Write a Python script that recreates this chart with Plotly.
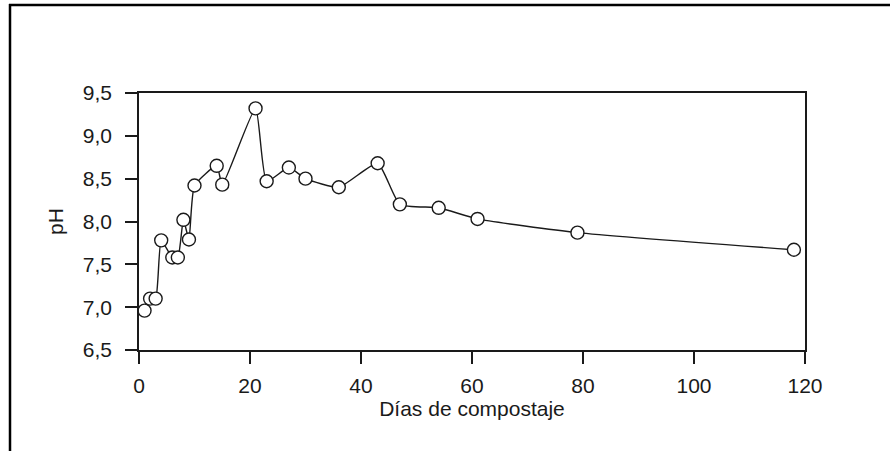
import plotly.graph_objects as go

dias = [1, 2, 3, 4, 6, 7, 8, 9, 10, 14, 15, 21, 23, 27, 30, 36, 43, 47, 54, 61, 79, 118]
ph = [6.96, 7.10, 7.10, 7.78, 7.58, 7.58, 8.02, 7.79, 8.42, 8.65, 8.43, 9.32, 8.47, 8.63, 8.50, 8.40, 8.68, 8.20, 8.16, 8.03, 7.87, 7.67]

x_ticks = [0, 20, 40, 60, 80, 100, 120]
y_ticks = [6.5, 7.0, 7.5, 8.0, 8.5, 9.0, 9.5]
y_tick_labels = ["6,5", "7,0", "7,5", "8,0", "8,5", "9,0", "9,5"]

ink = "#1a1a1a"
font = dict(family="Liberation Sans, Arial, sans-serif", size=21, color=ink)

fig = go.Figure()
fig.add_trace(go.Scatter(
    x=dias, y=ph, mode="lines+markers",
    line=dict(color=ink, width=1.4, shape="spline", smoothing=0.5),
    marker=dict(symbol="circle", size=13, color="white", line=dict(color=ink, width=1.4)),
    showlegend=False, cliponaxis=False,
))

L, R, T, B = 139, 85, 93, 101
W, H = 890, 451
pw, ph_ = W - L - R, H - T - B

def px_x(p):
    return (p - L) / pw

def px_y(p):
    return (H - B - p) / ph_

fig.update_layout(
    width=W, height=H,
    margin=dict(l=L, r=R, t=T, b=B),
    paper_bgcolor="white", plot_bgcolor="white",
    font=font,
    xaxis=dict(
        range=[0, 120], tickvals=x_ticks, ticktext=[str(v) for v in x_ticks],
        showgrid=False, zeroline=False, showline=True, mirror=True,
        linecolor=ink, linewidth=1.5, ticks="outside", ticklen=12, tickwidth=1.5,
        tickcolor=ink, tickfont=font, ticklabelstandoff=4,
        title=dict(text="Días de compostaje", font=font, standoff=4),
    ),
    yaxis=dict(
        range=[6.5, 9.5], tickvals=y_ticks, ticktext=y_tick_labels,
        showgrid=False, zeroline=False, showline=True, mirror=True,
        linecolor=ink, linewidth=1.5, ticks="outside", ticklen=12, tickwidth=1.5,
        tickcolor=ink, tickfont=font, ticklabelstandoff=9,
        title=dict(text="pH", font=font, standoff=13),
    ),
    shapes=[
        dict(type="line", xref="paper", yref="paper",
             x0=px_x(10), x1=px_x(10), y0=px_y(4), y1=px_y(470),
             line=dict(color="black", width=2.5)),
        dict(type="line", xref="paper", yref="paper",
             x0=px_x(9), x1=px_x(895), y0=px_y(5), y1=px_y(5),
             line=dict(color="black", width=2.5)),
    ],
)

fig.write_html(
    "out.html",
    config={"displayModeBar": False},
    post_script="document.body.style.margin='0px';document.body.style.overflow='hidden';",
)
